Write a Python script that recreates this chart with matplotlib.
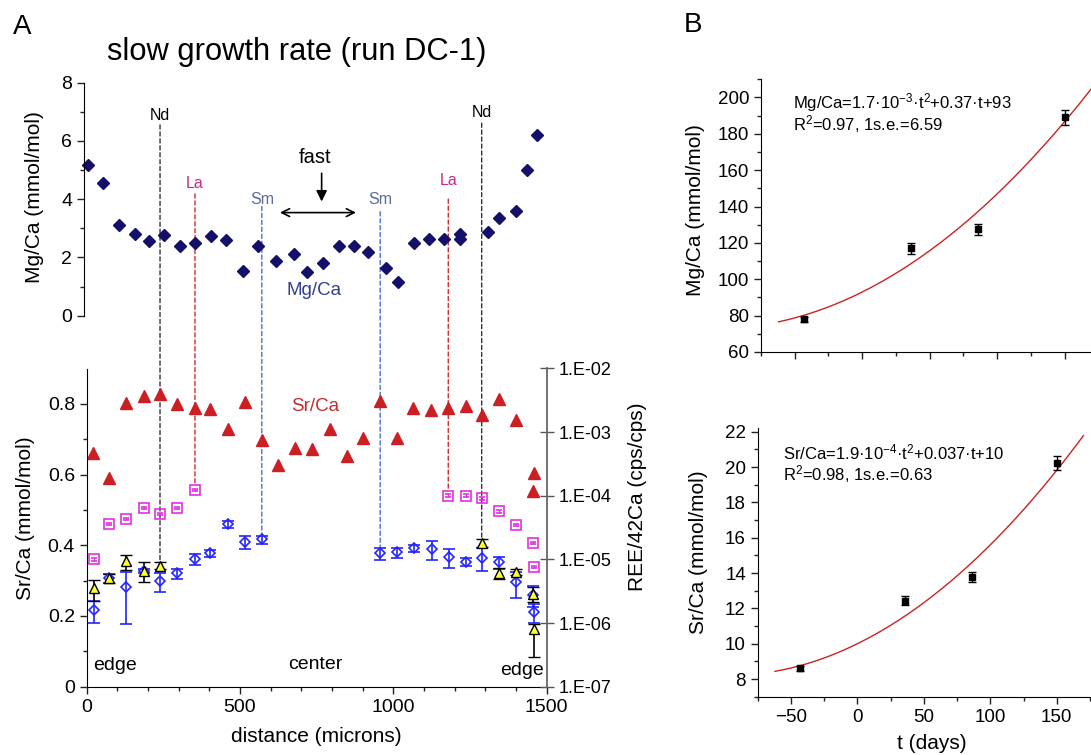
import numpy as np
import matplotlib
matplotlib.use("Agg")
import matplotlib.pyplot as plt
from matplotlib.patches import ConnectionPatch
from matplotlib.ticker import MultipleLocator, FixedLocator, FuncFormatter, NullLocator

plt.rcParams['font.family'] = ['Liberation Sans', 'DejaVu Sans']
plt.rcParams['mathtext.fontset'] = 'custom'
plt.rcParams['mathtext.rm'] = 'Liberation Sans'
plt.rcParams['mathtext.default'] = 'regular'

# ---- panel A, top: Mg/Ca profile ----
mg_dist = [5, 54, 106, 158, 203, 253, 304, 353, 404, 454, 509, 560, 616, 676, 719, 772,
           823, 873, 918, 975, 1014, 1068, 1116, 1165, 1217, 1217, 1310, 1345, 1400, 1437, 1469]
mg_val = [5.18, 4.55, 3.12, 2.80, 2.58, 2.77, 2.41, 2.49, 2.75, 2.60, 1.54, 2.40, 1.88, 2.12, 1.49, 1.80,
          2.41, 2.41, 2.20, 1.63, 1.17, 2.51, 2.64, 2.64, 2.81, 2.64, 2.87, 3.37, 3.60, 5.01, 6.19]

# ---- panel A, bottom: Sr/Ca (left axis) ----
sr_dist = [22, 74, 128, 187, 239, 296, 353, 402, 460, 516, 571, 625, 680, 736, 793, 850,
           902, 956, 1013, 1065, 1122, 1179, 1236, 1288, 1344, 1400, 1459, 1454]
sr_val = [0.660, 0.590, 0.803, 0.822, 0.827, 0.800, 0.788, 0.786, 0.729, 0.806, 0.698, 0.627,
          0.674, 0.672, 0.728, 0.653, 0.704, 0.809, 0.704, 0.788, 0.784, 0.788, 0.795, 0.768,
          0.813, 0.754, 0.604, 0.554]

# ---- REE/42Ca (right log axis) ----
la_dist = [24, 74, 128, 187, 239, 296, 353, 1179, 1236, 1288, 1344, 1400, 1456, 1459]
la_val = [1.0e-5, 3.56e-5, 4.26e-5, 6.49e-5, 5.23e-5, 6.49e-5, 1.22e-4,
          1.01e-4, 1.01e-4, 9.08e-5, 5.69e-5, 3.52e-5, 1.84e-5, 7.7e-6]
la_err = [0.4e-6, 1.4e-6, 1.7e-6, 2.6e-6, 2.1e-6, 2.6e-6, 4.9e-6,
          4.0e-6, 4.0e-6, 3.6e-6, 2.3e-6, 1.4e-6, 0.7e-6, 0.3e-6]

sm_dist = [24, 74, 128, 187, 239, 296, 353, 402, 460, 516, 571,
           957, 1013, 1068, 1125, 1181, 1236, 1288, 1344, 1400, 1456, 1459]
sm_val = [1.6e-6, 5.05e-6, 3.65e-6, 6.64e-6, 4.53e-6, 6.04e-6, 1.01e-5, 1.24e-5, 3.56e-5, 1.91e-5, 2.07e-5,
          1.24e-5, 1.29e-5, 1.50e-5, 1.45e-5, 1.11e-5, 9.19e-6, 1.07e-5, 8.97e-6, 4.37e-6, 2.77e-6, 1.49e-6]
sm_err = [0.6e-6, 0.75e-6, 2.7e-6, 0.5e-6, 1.5e-6, 1.1e-6, 2.0e-6, 1.6e-6, 4.3e-6, 4.3e-6, 3.0e-6,
          2.5e-6, 2.4e-6, 2.0e-6, 4.8e-6, 3.7e-6, 1.4e-6, 4.2e-6, 2.0e-6, 1.9e-6, 1.0e-6, 0.5e-6]

nd_dist = [24, 74, 128, 187, 239, 1288, 1344, 1400, 1454, 1459]
nd_val = [3.52e-6, 5.05e-6, 9.52e-6, 6.64e-6, 7.95e-6, 1.80e-5, 6.04e-6, 6.41e-6, 2.9e-6, 8.15e-7]
nd_err_lo = [1.3e-6, 0.84e-6, 2.6e-6, 2.3e-6, 0.9e-6, 2.6e-6, 1.2e-6, 0.7e-6, 0.76e-6, 5.2e-7]
nd_err_hi = [1.3e-6, 0.84e-6, 2.2e-6, 2.6e-6, 1.2e-6, 2.7e-6, 1.4e-6, 0.64e-6, 0.75e-6, 1.6e-7]

# ---- panel B ----
days = [-43, 36, 86, 150]
mg_b = [78.0, 117.0, 127.6, 189.0]
mg_b_err = [1.5, 3.0, 3.0, 4.0]
sr_b = [8.6, 12.44, 13.77, 20.25]
sr_b_err = [0.12, 0.25, 0.27, 0.4]
mg_fit = (1.7e-3, 0.37, 93)
sr_fit = (1.9e-4, 0.037, 10)
fit_span = (-62, 170)

W, H = 1091, 755
fig = plt.figure(figsize=(W / 100, H / 100), dpi=100)


def box(l, t, r, b):
    # axes rectangle from pixel edges
    return [l / W, 1 - b / H, (r - l) / W, (b - t) / H]


def style_ticks(ax, size):
    ax.tick_params(which='major', direction='out', length=5, width=1, labelsize=size, color='#222222')
    ax.tick_params(which='minor', direction='out', length=3, width=1, color='#222222')


# ---------------- panel A top ----------------
axm = fig.add_axes(box(84, 82.7, 546.7, 315.7))
axm.set_facecolor('none')
for s in ['top', 'right', 'bottom']:
    axm.spines[s].set_visible(False)
axm.set_xlim(-9, 1500)
axm.set_ylim(0, 8)
axm.set_xticks([])
axm.yaxis.set_major_locator(MultipleLocator(2))
axm.yaxis.set_minor_locator(MultipleLocator(1))
style_ticks(axm, 14)
axm.plot(mg_dist, mg_val, 'D', color='#14106a', ms=6.5, ls='none', clip_on=False)
axm.set_ylabel('Mg/Ca (mmol/mol)', fontsize=15, va='center')
axm.yaxis.set_label_coords(-0.106, 0.509)

axm.text(741, 0.88, 'Mg/Ca', color='#333d8f', fontsize=13.5, ha='center', va='center')
axm.text(745, 5.44, 'fast', color='k', fontsize=14.5, ha='center', va='center')
axm.annotate('', xy=(766, 3.92), xytext=(766, 4.89),
             arrowprops=dict(arrowstyle='-|>', color='k', lw=1.2, mutation_scale=16, shrinkA=0, shrinkB=0))
axm.annotate('', xy=(630, 3.54), xytext=(878, 3.54),
             arrowprops=dict(arrowstyle='<->', color='k', lw=1.2, mutation_scale=14, shrinkA=0, shrinkB=0))

# ---------------- panel A bottom ----------------
axs = fig.add_axes(box(86.7, 368.5, 546.7, 686.7))
axs.set_facecolor('none')
axs.spines['top'].set_visible(False)
axs.spines['right'].set_visible(False)
axs.set_xlim(0, 1500)
axs.set_ylim(0, 0.9)
axs.xaxis.set_major_locator(MultipleLocator(500))
axs.xaxis.set_minor_locator(MultipleLocator(100))
axs.yaxis.set_major_locator(FixedLocator([0, 0.2, 0.4, 0.6, 0.8]))
axs.yaxis.set_minor_locator(FixedLocator([0.1, 0.3, 0.5, 0.7]))
axs.yaxis.set_major_formatter(FuncFormatter(lambda v, p: '0' if abs(v) < 1e-9 else f'{v:.1f}'))
style_ticks(axs, 14)
axs.plot(sr_dist, sr_val, '^', color='#cc1f24', ms=8.5, ls='none')
axs.set_ylabel('Sr/Ca (mmol/mol)', fontsize=15, va='center')
axs.yaxis.set_label_coords(-0.134, 0.530)
axs.set_xlabel('distance (microns)', fontsize=15, va='center')
axs.xaxis.set_label_coords(0.4985, -0.158)

axs.text(744, 0.792, 'Sr/Ca', color='#c42a30', fontsize=13.5, ha='center', va='center')
axs.text(92, 0.061, 'edge', fontsize=14, ha='center', va='center')
axs.text(744, 0.064, 'center', fontsize=14, ha='center', va='center')
axs.text(1418, 0.047, 'edge', fontsize=14, ha='center', va='center')

axr = axs.twinx()
axr.set_facecolor('none')
for s in ['top', 'left', 'bottom']:
    axr.spines[s].set_visible(False)
axr.spines['right'].set_color('#666666')
axr.spines['right'].set_linewidth(1.3)
axr.set_yscale('log')
axr.set_ylim(1e-7, 1e-2)
axr.yaxis.set_major_locator(FixedLocator([1e-7, 1e-6, 1e-5, 1e-4, 1e-3, 1e-2]))
axr.yaxis.set_minor_locator(NullLocator())
axr.yaxis.set_major_formatter(FuncFormatter(lambda v, p: f'1.E{int(round(np.log10(v))):03d}'))
axr.tick_params(which='major', direction='inout', length=10, width=1, labelsize=13, color='#555555')
axr.set_ylabel('REE/42Ca (cps/cps)', fontsize=15, va='center', rotation=90)
axr.yaxis.set_label_coords(1.198, 0.596)

axr.errorbar(la_dist, la_val, yerr=la_err, fmt='s', mfc='none', mec='#e030e0', ecolor='#e030e0',
             ms=7, mew=1.2, elinewidth=1, capsize=2.5, capthick=1)
axr.errorbar(sm_dist, sm_val, yerr=sm_err, fmt='D', mfc='none', mec='#2424ff', ecolor='#2424ff',
             ms=5.5, mew=1.2, elinewidth=1.2, capsize=4, capthick=1.2)
axr.errorbar(nd_dist, nd_val, yerr=[nd_err_lo, nd_err_hi], fmt='^', mfc='#ffff33', mec='k', ecolor='k',
             ms=7.5, mew=1, elinewidth=1.2, capsize=4, capthick=1.2)

# dashed guide lines from the element labels down to the last point of each series
guides = [
    ('Nd', nd_dist[4], nd_val[4], 6.55, 6.87, 'k', '#333333'),
    ('Nd', nd_dist[5], nd_val[5], 6.61, 6.96, 'k', '#333333'),
    ('La', la_dist[6], la_val[6], 4.18, 4.55, '#cc2a80', '#d42a2a'),
    ('La', la_dist[7], la_val[7], 4.00, 4.64, '#cc2a80', '#d42a2a'),
    ('Sm', sm_dist[10], sm_val[10], 3.75, 4.00, '#5a6a9a', '#4a6fd0'),
    ('Sm', sm_dist[11], sm_val[11], 3.57, 4.00, '#5a6a9a', '#4a6fd0'),
]
for name, gx, gy, ytop, ylab, tcol, lcol in guides:
    con = ConnectionPatch(xyA=(gx, ytop), coordsA=axm.transData, xyB=(gx, gy), coordsB=axr.transData,
                          color=lcol, lw=1, linestyle=(0, (3, 2)), shrinkB=4)
    con.set_zorder(-1)
    fig.add_artist(con)
    axm.text(gx, ylab, name, color=tcol, fontsize=11.5, ha='center', va='center')

# ---------------- panel B ----------------
tt = np.linspace(fit_span[0], fit_span[1], 200)

axb1 = fig.add_axes(box(761, 79.3, 1091, 352))
axb1.spines['top'].set_visible(False)
axb1.spines['right'].set_visible(False)
axb1.set_xlim(-75, 169.5)
axb1.set_ylim(60, 210)
axb1.xaxis.set_major_locator(MultipleLocator(50))
axb1.xaxis.set_minor_locator(MultipleLocator(25))
axb1.yaxis.set_major_locator(FixedLocator([60, 80, 100, 120, 140, 160, 180, 200]))
axb1.yaxis.set_minor_locator(MultipleLocator(10))
style_ticks(axb1, 13.5)
axb1.tick_params(axis='x', labelbottom=False)
axb1.plot(tt, mg_fit[0] * tt ** 2 + mg_fit[1] * tt + mg_fit[2], color='#cc2222', lw=1)
axb1.errorbar(days, mg_b, yerr=mg_b_err, fmt='s', color='k', ms=5, capsize=3, elinewidth=1)
axb1.set_ylabel('Mg/Ca (mmol/mol)', fontsize=15, va='center')
axb1.yaxis.set_label_coords(-0.197, 0.521)
axb1.text(-51.3, 197, 'Mg/Ca=1.7·10$^{-3}$·t$^{2}$+0.37·t+93', fontsize=12, va='center')
axb1.text(-51.3, 185.3, 'R$^{2}$=0.97, 1s.e.=6.59', fontsize=12, va='center')

axb2 = fig.add_axes(box(757.7, 428.3, 1090, 696.7))
axb2.spines['top'].set_visible(False)
axb2.spines['right'].set_visible(False)
axb2.set_xlim(-75, 175)
axb2.set_ylim(7, 22.2)
axb2.xaxis.set_major_locator(FixedLocator([-50, 0, 50, 100, 150]))
axb2.xaxis.set_minor_locator(MultipleLocator(25))
axb2.yaxis.set_major_locator(FixedLocator([8, 10, 12, 14, 16, 18, 20, 22]))
axb2.yaxis.set_minor_locator(MultipleLocator(1))
style_ticks(axb2, 13.5)
axb2.plot(tt, sr_fit[0] * tt ** 2 + sr_fit[1] * tt + sr_fit[2], color='#cc2222', lw=1)
axb2.errorbar(days, sr_b, yerr=sr_b_err, fmt='s', color='k', ms=5, capsize=3, elinewidth=1)
axb2.set_ylabel('Sr/Ca (mmol/mol)', fontsize=15, va='center')
axb2.yaxis.set_label_coords(-0.177, 0.539)
axb2.set_xlabel('t (days)', fontsize=15, va='center')
axb2.xaxis.set_label_coords(0.525, -0.174)
axb2.text(-56.2, 20.86, 'Sr/Ca=1.9·10$^{-4}$·t$^{2}$+0.037·t+10', fontsize=12, va='center')
axb2.text(-56.2, 19.63, 'R$^{2}$=0.98, 1s.e.=0.63', fontsize=12, va='center')

# panel letters and title
fig.text(22 / W, 1 - 27 / H, 'A', fontsize=20, ha='center', va='center')
fig.text(693 / W, 1 - 25 / H, 'B', fontsize=20, ha='center', va='center')
fig.text(297 / W, 1 - 52 / H, 'slow growth rate (run DC-1)', fontsize=22.2, ha='center', va='center')

fig.savefig('out.png', dpi=100, facecolor='white')
